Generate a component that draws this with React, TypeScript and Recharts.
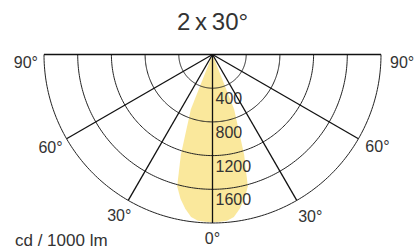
import React from 'react';
import { RadarChart, Radar, PolarGrid, PolarAngleAxis, PolarRadiusAxis } from 'recharts';

// Beam angle (deg) and luminous intensity (cd / 1000 lm)
const angles = [-90, -60, -30, -22.5, -21.5, -18.5, -17.5, -15, -12.5, -10, -7.5, -5, -2.5, 0, 2.5, 5, 7.5, 10, 12.5, 15, 17.5, 18.5, 21.5, 22.5, 30, 60, 90];
const intensity = [0, 0, 0, 0, 700, 1050, 1250, 1620, 1755, 1860, 1945, 1980, 1988, 1990, 1988, 1980, 1945, 1860, 1755, 1620, 1250, 1050, 700, 0, 0, 0, 0];

const angleTicks = [-90, -60, -30, 0, 30, 60, 90];
const radiusTicks = [400, 800, 1200, 1600, 2000];
const radiusLabels = [400, 800, 1200, 1600];
const ringAngles = Array.from({ length: 181 }, (_, i) => i - 90);

const data = angles.map((a, i) => ({ angle: a, cd: intensity[i] }));

const FONT = '"Liberation Sans", Arial, Helvetica, sans-serif';
const TXT = '#333333';
const GRID = '#222222';
const RAY = '#111111';

const angleLabelStyle: Record<number, { anchor: 'start' | 'middle' | 'end'; dx: number; dy: number }> = {
  [-90]: { anchor: 'end', dx: 2, dy: 13 },
  [90]: { anchor: 'start', dx: 1, dy: 13 },
  [-60]: { anchor: 'end', dx: 3, dy: 10 },
  [60]: { anchor: 'start', dx: 0, dy: 9.5 },
  [-30]: { anchor: 'middle', dx: -5, dy: 13.4 },
  [30]: { anchor: 'middle', dx: 9.5, dy: 15 },
  [0]: { anchor: 'middle', dx: 0, dy: 12.5 },
};

const AngleTick = (props: any) => {
  const { x, y, payload } = props;
  const v = payload.value as number;
  const s = angleLabelStyle[v] || { anchor: 'middle', dx: 0, dy: 0 };
  return (
    <text x={x + s.dx} y={y + s.dy} textAnchor={s.anchor} fontFamily={FONT} fontSize={16} fill={TXT}>
      {`${Math.abs(v)}°`}
    </text>
  );
};

const RadiusTick = (props: any) => {
  const { x, y, payload } = props;
  if (!radiusLabels.includes(payload.value)) return <g />;
  return (
    <text x={x + 3} y={y + 16} textAnchor="start" fontFamily={FONT} fontSize={16} fill={TXT}>
      {payload.value}
    </text>
  );
};

const chartGeom = {
  width: 414,
  height: 250,
  cx: 212.5,
  cy: 54.5,
  innerRadius: 0,
  outerRadius: 168.5,
  startAngle: 180,
  endAngle: 360,
  margin: { top: 0, right: 0, bottom: 0, left: 0 },
};

const layer: React.CSSProperties = { position: 'absolute', left: 0, top: 0 };

export default function App() {
  return (
    <div style={{ position: 'absolute', left: 0, top: 0, width: 414, height: 250, background: '#fff', overflow: 'hidden' }}>
      <div
        style={{
          position: 'absolute', left: 0, top: 10, width: 425, textAlign: 'center',
          fontFamily: FONT, fontSize: 24, lineHeight: '24px', color: TXT,
        }}
      >
        {'2\u2009x\u200930°'}
      </div>
      <div
        style={{
          position: 'absolute', left: 15, top: 232.5, whiteSpace: 'nowrap',
          fontFamily: FONT, fontSize: 17, lineHeight: '16px', color: TXT,
        }}
      >
        cd / 1000 lm
      </div>
      {/* layer 1: light distribution fill */}
      <div style={layer}>
        <RadarChart {...chartGeom} data={data}>
          <PolarAngleAxis dataKey="angle" type="number" domain={[-90, 90]} ticks={angleTicks} tick={false} tickLine={false} axisLine={false} />
          <PolarRadiusAxis type="number" domain={[0, 2000]} ticks={radiusTicks} angle={270} axisLine={false} tickLine={false} tick={false} />
          <Radar dataKey="cd" fill="#fae89c" fillOpacity={1} stroke="none" isAnimationActive={false} />
        </RadarChart>
      </div>
      {/* layer 2: intensity rings and their labels */}
      <div style={layer}>
        <RadarChart {...chartGeom} data={data}>
          <PolarAngleAxis
            angleAxisId="fine"
            dataKey="angle"
            type="number"
            domain={[-90, 90]}
            ticks={ringAngles}
            tick={false}
            tickLine={false}
            axisLine={false}
          />
          <PolarRadiusAxis
            type="number"
            domain={[0, 2000]}
            ticks={radiusTicks}
            angle={270}
            axisLine={false}
            tickLine={false}
            tick={RadiusTick}
          />
          <Radar angleAxisId="fine" dataKey="cd" fill="none" stroke="none" isAnimationActive={false} />
          <PolarGrid angleAxisId="fine" gridType="polygon" radialLines={false} stroke={GRID} strokeWidth={1} />
        </RadarChart>
      </div>
      {/* layer 3: angle rays and angle labels */}
      <div style={layer}>
        <RadarChart {...chartGeom} data={data}>
          <PolarAngleAxis
            dataKey="angle"
            type="number"
            domain={[-90, 90]}
            ticks={angleTicks}
            tick={AngleTick}
            tickLine={false}
            axisLine={false}
          />
          <PolarRadiusAxis type="number" domain={[0, 2000]} ticks={radiusTicks} angle={270} axisLine={false} tickLine={false} tick={false} />
          <PolarGrid gridType="polygon" polarRadius={[]} stroke={RAY} strokeWidth={1.3} />
        </RadarChart>
      </div>
    </div>
  );
}
